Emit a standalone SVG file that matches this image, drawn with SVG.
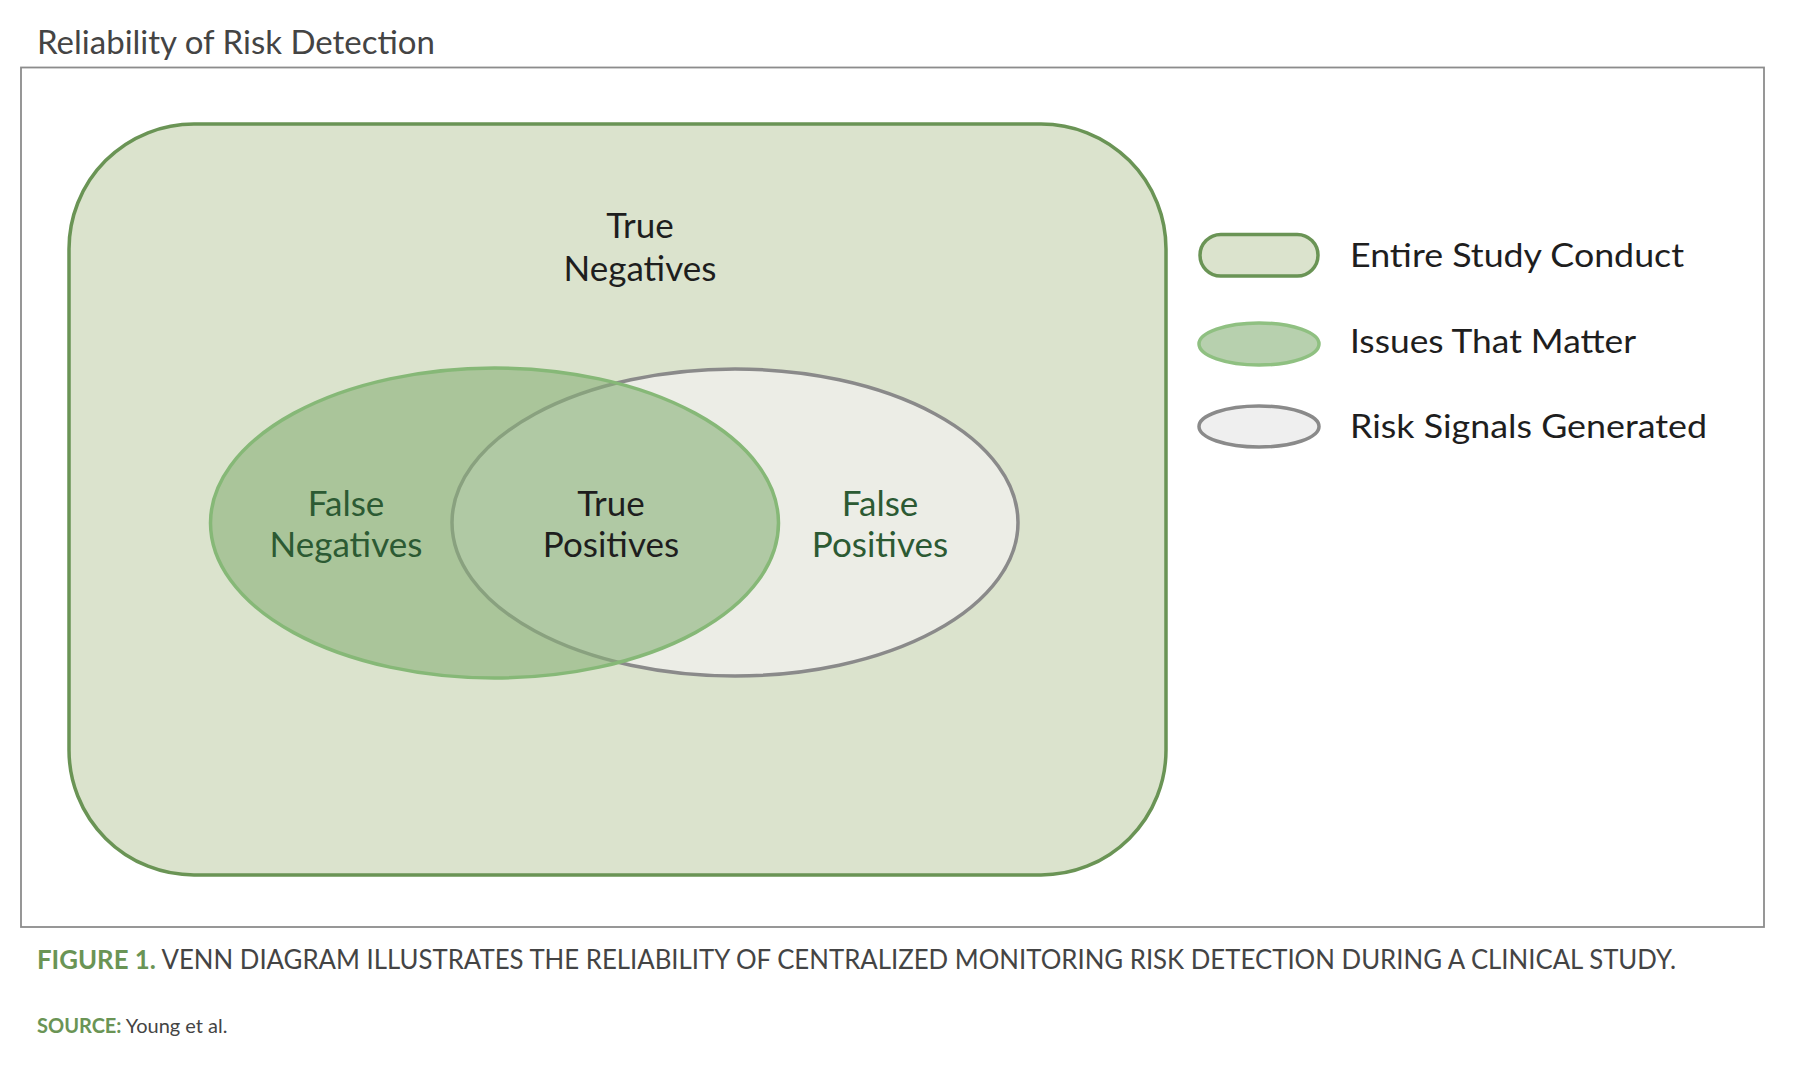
<svg xmlns="http://www.w3.org/2000/svg" width="1794" height="1066" viewBox="0 0 1794 1066">
<style>
.title{font-family:Lato,"Noto Sans",sans-serif;font-size:32px;fill:#444444}
.lbl{font-family:Lato,"Noto Sans",sans-serif;font-size:35px;text-anchor:middle}
.dark{fill:#1e1e1e}
.grn{fill:#2c5a33}
.leg{font-family:Lato,"Noto Sans",sans-serif;font-size:33px;fill:#1e1e1e}
.cap{font-family:Lato,"Noto Sans",sans-serif;font-size:26px;fill:#444444}
.capg{font-weight:bold;fill:#6a9455}
.src{font-family:Lato,"Noto Sans",sans-serif;font-size:20px;fill:#444444}
.study{fill:#dbe3cd;stroke:#6a9455;stroke-width:3.5}
.issues{fill:#88b178;fill-opacity:0.6;stroke:#86b877;stroke-width:3.5}
.signals{fill:#ecede6;stroke:#8a8a8a;stroke-width:3.5}
.signalsLeg{fill:#efefef;stroke:#8a8a8a;stroke-width:3.5}
</style>
<rect width="1794" height="1066" fill="#ffffff"/>
<text class="title" x="37" y="54" textLength="398" lengthAdjust="spacingAndGlyphs">Reliability of Risk Detection</text>
<rect id="frame" x="21" y="67.5" width="1743" height="859.5" fill="#ffffff" stroke="#8c8c8c" stroke-width="1.8"/>

<g id="entire-study">
<rect class="study" x="69" y="124" width="1097" height="751" rx="125" ry="125"/>
<text class="lbl dark" x="640" y="238">True</text>
<text class="lbl dark" x="640" y="281">Negatives</text>
</g>
<g id="risk-signals">
<ellipse class="signals" cx="735" cy="522.5" rx="283" ry="153.5"/>
</g>
<g id="issues">
<ellipse class="issues" cx="494.5" cy="523" rx="284" ry="155"/>
</g>
<g id="labels">
<text class="lbl grn" x="346" y="516">False</text>
<text class="lbl grn" x="346" y="557">Negatives</text>
<text class="lbl dark" x="611" y="516">True</text>
<text class="lbl dark" x="611" y="557">Positives</text>
<text class="lbl grn" x="880" y="516">False</text>
<text class="lbl grn" x="880" y="557">Positives</text>
</g>
<g id="connectors"></g>

<g id="legend">
<g id="legend-study">
<rect class="study" x="1200" y="234.5" width="118" height="41.5" rx="20.75" ry="20.75"/>
<text class="leg" x="1350" y="267" textLength="334" lengthAdjust="spacingAndGlyphs">Entire Study Conduct</text>
</g>
<g id="legend-issues">
<ellipse cx="1259" cy="344" rx="60" ry="21" fill="#b7d0ae" stroke="#8fc081" stroke-width="3.5"/>
<text class="leg" x="1350" y="353" textLength="286" lengthAdjust="spacingAndGlyphs">Issues That Matter</text>
</g>
<g id="legend-signals">
<ellipse class="signalsLeg" cx="1259" cy="426.5" rx="60" ry="20.5"/>
<text class="leg" x="1350" y="438" textLength="357" lengthAdjust="spacingAndGlyphs">Risk Signals Generated</text>
</g>
</g>

<text class="cap" x="37" y="969" textLength="1639" lengthAdjust="spacingAndGlyphs"><tspan class="capg">FIGURE 1.</tspan> VENN DIAGRAM ILLUSTRATES THE RELIABILITY OF CENTRALIZED MONITORING RISK DETECTION DURING A CLINICAL STUDY.</text>
<text class="src" x="37" y="1033"><tspan class="capg">SOURCE:</tspan> Young et al.</text>
</svg>
